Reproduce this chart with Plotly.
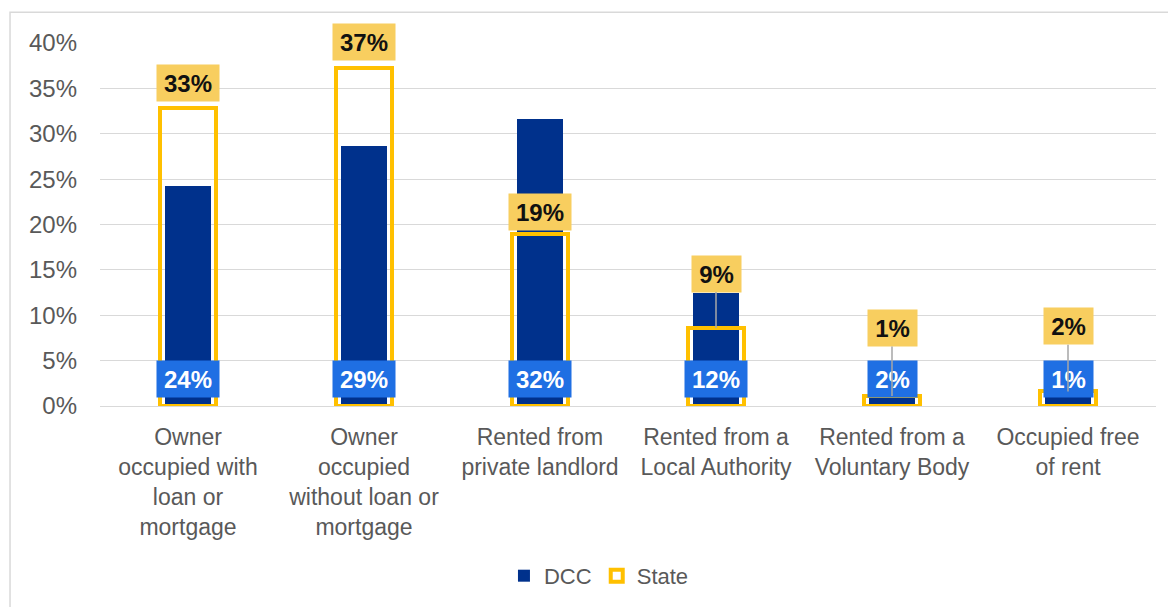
import plotly.graph_objects as go

categories = [
    "Owner<br>occupied with<br>loan or<br>mortgage",
    "Owner<br>occupied<br>without loan or<br>mortgage",
    "Rented from<br>private landlord",
    "Rented from a<br>Local Authority",
    "Rented from a<br>Voluntary Body",
    "Occupied free<br>of rent",
]
dcc_values = [24.2, 28.7, 31.6, 12.4, 1.8, 1.2]
state_values = [32.8, 37.3, 19.0, 8.6, 1.1, 1.6]
y_ticks = [0, 5, 10, 15, 20, 25, 30, 35, 40]

# label placement (layout only)
state_label_at = [35.6, 40.1, 21.4, 14.6, 8.6, 8.8]
dcc_label_at = 3.0

NAVY = "#00318C"
GOLD = "#FFC000"
LABEL_GOLD = "#F8CE5F"
LABEL_BLUE = "#1F6FE3"
GREY_TXT = "#595959"
FONT = "Liberation Sans, Arial, sans-serif"
LABEL_SIZE = 24
TICK_SIZE = 24
CAT_SIZE = 23


def box_width(txt, size=LABEL_SIZE):
    em = sum(0.889 if c == "%" else 0.556 for c in txt)
    return round(em * size) + 4


x_idx = list(range(len(categories)))

fig = go.Figure()
fig.add_trace(go.Bar(
    x=x_idx, y=dcc_values, name="DCC", width=0.26,
    marker=dict(color=NAVY, line=dict(width=0)),
))
fig.add_trace(go.Bar(
    x=x_idx, y=state_values, name="State", width=0.318,
    marker=dict(color="rgba(0,0,0,0)", line=dict(color=GOLD, width=4)),
))

annotations = []
for i, v in enumerate(dcc_values):
    t = f"{round(v)}%"
    annotations.append(dict(
        x=i, y=dcc_label_at, xref="x", yref="y", text=f"<b>{t}</b>",
        showarrow=False, bgcolor=LABEL_BLUE, borderpad=5,
        width=box_width(t), height=26,
        font=dict(family=FONT, size=LABEL_SIZE, color="white"),
    ))
for i, v in enumerate(state_values):
    gap = state_label_at[i] - v
    t = f"{round(v)}%"
    annotations.append(dict(
        x=i, y=v, xref="x", yref="y", ax=i, ay=state_label_at[i],
        axref="x", ayref="y", text=f"<b>{t}</b>",
        showarrow=True, arrowhead=0, arrowwidth=1.5, standoff=0,
        arrowcolor="#A6A6A6" if gap > 4 else "rgba(0,0,0,0)",
        bgcolor=LABEL_GOLD, borderpad=5,
        width=box_width(t), height=26,
        font=dict(family=FONT, size=LABEL_SIZE, color="#111111"),
    ))

fig.update_layout(
    width=1168, height=599,
    margin=dict(l=92, r=20, t=35, b=200),
    paper_bgcolor="white", plot_bgcolor="white",
    barmode="overlay", bargap=0,
    font=dict(family=FONT, size=TICK_SIZE, color=GREY_TXT),
    showlegend=True,
    legend=dict(orientation="h", x=0.4725, xanchor="center", y=-0.464, yanchor="middle",
                font=dict(family=FONT, size=22, color=GREY_TXT),
                itemwidth=30, traceorder="normal"),
    annotations=annotations,
    shapes=[dict(type="rect", xref="paper", yref="paper",
                 x0=-0.0852, x1=1.015, y0=-0.6, y1=1.085,
                 line=dict(color="#D9D9D9", width=1.5), layer="below")],
)
fig.update_xaxes(
    tickmode="array", tickvals=x_idx, ticktext=categories,
    range=[-0.5, len(categories) - 0.5],
    showgrid=False, showline=False, zeroline=False, ticks="",
    tickfont=dict(family=FONT, size=CAT_SIZE, color=GREY_TXT),
    ticklabelstandoff=15,
)
fig.update_yaxes(
    range=[0, 40], tickmode="array", tickvals=y_ticks,
    ticktext=[f"{t}%" for t in y_ticks],
    showgrid=True, gridcolor="#D9D9D9", gridwidth=1,
    zeroline=True, zerolinecolor="#D9D9D9", zerolinewidth=1,
    showline=False, ticks="",
    tickfont=dict(family=FONT, size=TICK_SIZE, color=GREY_TXT),
    ticklabelstandoff=22,
)

fig.write_html("out.html")
